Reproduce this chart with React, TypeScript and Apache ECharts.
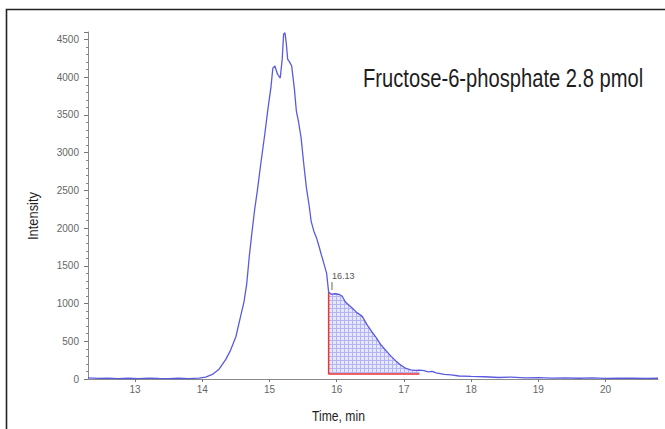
import React, { useEffect, useRef } from "react";
import * as echarts from "echarts";

// Chromatogram trace (time in min, intensity)
const times = [
  12.3, 12.45, 12.6, 12.75, 12.9, 13.05, 13.2, 13.35, 13.5, 13.65, 13.8, 13.95,
  14.05, 14.15, 14.25, 14.35, 14.42, 14.5, 14.57, 14.62, 14.66, 14.7, 14.74, 14.78,
  14.82, 14.87, 14.93, 14.98, 15.02, 15.05, 15.08, 15.12, 15.16, 15.19, 15.21, 15.23,
  15.25, 15.27, 15.3, 15.33, 15.37, 15.4, 15.43, 15.47, 15.51, 15.55, 15.59, 15.62,
  15.66, 15.7, 15.74, 15.77, 15.81, 15.85, 15.88, 15.92, 15.98, 16.04, 16.08, 16.13,
  16.18, 16.23, 16.3, 16.38, 16.45, 16.52, 16.59, 16.66, 16.74, 16.81, 16.88, 16.96,
  17.03, 17.1, 17.17, 17.23, 17.3, 17.36, 17.42, 17.48, 17.6, 17.7, 17.82, 18.0,
  18.2, 18.41, 18.6, 18.8, 19.0, 19.2, 19.4, 19.6, 19.8, 20.0, 20.2, 20.4,
  20.6, 20.78,
];
const intensity = [
  15, 8, 12, 5, 10, 6, 12, 8, 5, 10, 6, 12,
  25, 60, 130, 260, 380, 560, 830, 1020, 1250, 1630, 1950, 2250,
  2500, 2850, 3245, 3600, 3855, 4120, 4150, 4040, 3990, 4250, 4570, 4590,
  4450, 4240, 4200, 4150, 3850, 3550, 3420, 3200, 2850, 2530, 2300, 2090,
  1960, 1870, 1750, 1650, 1530, 1400, 1150, 1125, 1130, 1120, 1100, 1020,
  980, 940, 880, 830, 720, 630, 545, 450, 370, 300, 240, 180,
  140, 120, 115, 118, 110, 95, 100, 80, 60, 55, 40, 35,
  30, 20, 25, 15, 18, 12, 15, 10, 14, 8, 12, 10,
  7, 10,
];

// Integration of the peak tail
const integStart = 15.88;
const integEnd = 17.23;
const integBaseline = 66;
const peakLabel = "16.13";
const peakLabelTime = 15.93;
const peakTickLow = 1180;
const peakTickHigh = 1285;

const xTicks = [13, 14, 15, 16, 17, 18, 19, 20];
const yTicks = [0, 500, 1000, 1500, 2000, 2500, 3000, 3500, 4000, 4500];

const titleText = "Fructose-6-phosphate 2.8 pmol";
const xName = "Time, min";
const yName = "Intensity";

export default function App() {
  const ref = useRef<HTMLDivElement>(null);
  useEffect(() => {
    if (!ref.current) return;
    const chart = echarts.init(ref.current, null, { renderer: "svg" });

    const trace = times.map((t, i) => [t, intensity[i]]);
    const shaded = times
      .map((t, i) => [t, intensity[i]])
      .filter((p) => p[0] >= integStart && p[0] <= integEnd);

    const cv = document.createElement("canvas");
    cv.width = 4;
    cv.height = 4;
    const ctx = cv.getContext("2d");
    if (ctx) {
      ctx.fillStyle = "rgb(230,230,252)";
      ctx.fillRect(0, 0, 4, 4);
      ctx.fillStyle = "rgb(180,180,240)";
      ctx.fillRect(0, 0, 4, 1);
      ctx.fillRect(0, 0, 1, 4);
    }

    const sans = "'Liberation Sans', Arial, sans-serif";

    chart.setOption({
      animation: false,
      backgroundColor: "#ffffff",
      grid: { left: 88, right: 7, top: 32, bottom: 50, containLabel: false },
      xAxis: {
        type: "value",
        min: 12.3,
        max: 20.78,
        splitLine: { show: false },
        axisLine: { show: true, lineStyle: { color: "#8a8a8a", width: 1 } },
        axisTick: { show: true, customValues: xTicks, length: 3, lineStyle: { color: "#777" } },
        axisLabel: {
          customValues: xTicks,
          formatter: (v: number) => String(v),
          color: "#666",
          fontSize: 10,
          fontFamily: sans,
          margin: 5,
        },
      },
      yAxis: {
        type: "value",
        min: 0,
        max: 4600,
        interval: 500,
        splitLine: { show: false },
        axisLine: { show: true, lineStyle: { color: "#8a8a8a", width: 1 } },
        axisTick: { show: true, length: 4, lineStyle: { color: "#777" } },
        minorTick: { show: true, splitNumber: 5, length: 2, lineStyle: { color: "#888" } },
        axisLabel: {
          customValues: yTicks,
          formatter: (v: number) => String(v),
          color: "#666",
          fontSize: 10,
          fontFamily: sans,
          margin: 9,
        },
      },
      graphic: [
        {
          type: "rect",
          shape: { x: 6.5, y: 9.5, width: 800, height: 600 },
          style: { fill: "none", stroke: "#222", lineWidth: 1.6 },
          silent: true,
        },
        {
          type: "text",
          x: 363,
          y: 78,
          scaleX: 0.807,
          style: {
            text: titleText,
            font: `25px ${sans}`,
            fill: "#1e1e1e",
            align: "left",
            verticalAlign: "middle",
          },
        },
        {
          type: "text",
          x: 33,
          y: 216,
          rotation: Math.PI / 2,
          scaleX: 0.86,
          style: {
            text: yName,
            font: `15px ${sans}`,
            fill: "#1e1e1e",
            align: "center",
            verticalAlign: "middle",
          },
        },
        {
          type: "text",
          x: 338.5,
          y: 416,
          scaleX: 0.81,
          style: {
            text: xName,
            font: `15px ${sans}`,
            fill: "#1e1e1e",
            align: "center",
            verticalAlign: "middle",
          },
        },
      ],
      series: [
        {
          type: "line",
          data: shaded,
          showSymbol: false,
          symbol: "none",
          lineStyle: { width: 0, opacity: 0 },
          areaStyle: {
            origin: integBaseline,
            color: { image: cv, repeat: "repeat" },
            opacity: 1,
          },
          z: 1,
          silent: true,
        },
        {
          type: "line",
          data: trace,
          showSymbol: false,
          symbol: "none",
          lineStyle: { color: "#5a5ae0", width: 1.3 },
          z: 3,
          silent: true,
        },
        {
          type: "line",
          data: [
            [integStart, intensity[times.indexOf(integStart)]],
            [integStart, integBaseline],
            [integEnd, integBaseline],
          ],
          showSymbol: false,
          symbol: "none",
          lineStyle: { color: "#ee3333", width: 1.5 },
          z: 2,
          silent: true,
        },
        {
          type: "line",
          data: [
            [peakLabelTime, peakTickLow],
            [peakLabelTime, peakTickHigh],
          ],
          showSymbol: true,
          symbol: "none",
          lineStyle: { color: "#666", width: 1 },
          label: { show: false },
          endLabel: {
            show: true,
            formatter: peakLabel,
            color: "#555",
            fontSize: 9,
            fontFamily: sans,
            distance: 0,
            offset: [0, -6],
          },
          z: 4,
          silent: true,
        },
      ],
    });
    return () => chart.dispose();
  }, []);
  return (
    <div
      ref={ref}
      style={{ position: "absolute", left: 0, top: 0, width: 665, height: 429 }}
    />
  );
}
